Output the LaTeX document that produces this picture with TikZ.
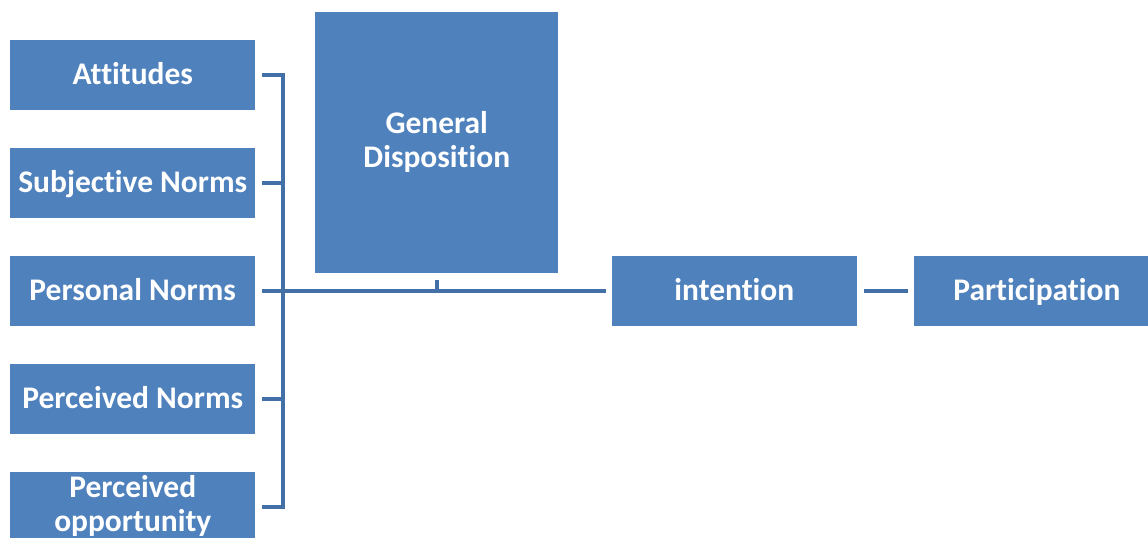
\documentclass[tikz,border=0pt]{standalone}
\usepackage{fontspec}
\setmainfont[Ligatures=NoCommon]{Carlito}
\usetikzlibrary{positioning}
\definecolor{boxblue}{RGB}{79,129,189}
\definecolor{lineblue}{RGB}{68,112,168}
\newcommand{\bxstrut}{\rule[-5.4pt]{0pt}{25.5pt}}
\tikzstyle{blk} = [rectangle, fill=boxblue, text=white, font=\fontsize{23.6}{25.5}\selectfont\bfseries, minimum width=183.75pt, minimum height=52pt, align=center, inner sep=0pt, execute at begin node=\bxstrut, execute at end node=\bxstrut]
\tikzstyle{link} = [draw=lineblue, line width=3pt]

\begin{document}
\begin{tikzpicture}[node distance=28.6pt]
		\useasboundingbox (0,0) rectangle (861pt,-403.5pt);
		\node (att) [blk, anchor=north west] at (7.5pt,-30pt) {Attitudes};
		\node (subj) [blk, below=of att] {Subjective Norms};
		\node (pers) [blk, below=of subj] {Personal Norms};
		\node (perc) [blk, below=of pers] {Perceived Norms};
		\node (opp) [blk, below=of perc] {Perceived\\opportunity};
		\node (gd) [blk, anchor=north west, minimum width=182.25pt, minimum height=195.75pt] at (236.25pt,-9pt) {General\\Disposition};
		\node (intn) [blk, right=267pt of pers] {intention};
		\node (part) [blk, right=42.75pt of intn] {Participation};
		\coordinate (br) at (212.6pt,0);
		\draw [link] ([xshift=4.5pt]att.east) -- (br |- att.east) -- (br |- opp.east) -- ([xshift=4.5pt]opp.east);
		\foreach \n in {subj,pers,perc}
			\draw [link] ([xshift=4.5pt]\n.east) -- (br |- \n.east);
		\draw [link] (br |- pers.east) -- ([xshift=-4.5pt]intn.west);
		\draw [link] ([yshift=-4.5pt]gd.south) -- (gd.south |- pers.east);
		\draw [link] ([xshift=5pt]intn.east) -- ([xshift=-4.5pt]part.west);
\end{tikzpicture}
\end{document}
